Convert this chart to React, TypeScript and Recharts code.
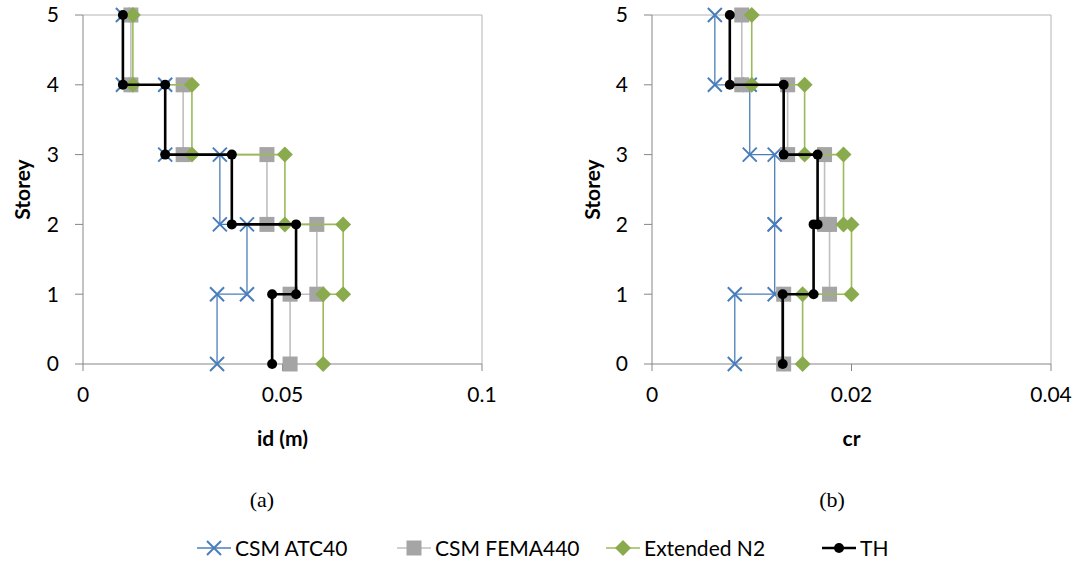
import { ScatterChart, Scatter, XAxis, YAxis, ReferenceLine } from 'recharts';

// value per storey interval (storey 1 = ground to first floor)
const storeys = [0, 1, 2, 3, 4, 5];
const idTicks = [0, 0.05, 0.1];
const crTicks = [0, 0.02, 0.04];

const idATC40 = [0.0336, 0.0411, 0.0343, 0.0206, 0.01];
const idFEMA440 = [0.0519, 0.0586, 0.0461, 0.0251, 0.012];
const idN2 = [0.0602, 0.0652, 0.0506, 0.0273, 0.0125];
const idTH = [0.0474, 0.0534, 0.0373, 0.0206, 0.01];

const crATC40 = [0.0083, 0.0123, 0.0123, 0.0098, 0.0063];
const crFEMA440 = [0.0132, 0.0178, 0.0173, 0.0136, 0.009];
const crN2 = [0.0151, 0.02, 0.0192, 0.0153, 0.01];
const crTH = [0.0131, 0.0162, 0.0166, 0.0132, 0.0078];

const steps = (vals: number[]) => vals.flatMap((v, i) => [{ x: v, y: i }, { x: v, y: i + 1 }]);

const BLUE = '#4a7ebb';
const GRAY_LINE = '#bfbfbf';
const GRAY = '#a5a5a5';
const GREEN_LINE = '#9bbb59';
const GREEN = '#8aab4d';
const AXIS = '#868686';
const BORDER = '#b4b4b4';
const FONT = 'Lato, "Noto Sans", sans-serif';

const XMark = (p: any) => (
  <path
    d={`M${p.cx - 7},${p.cy - 7}L${p.cx + 7},${p.cy + 7}M${p.cx - 7},${p.cy + 7}L${p.cx + 7},${p.cy - 7}`}
    stroke={BLUE}
    strokeWidth={2}
    fill="none"
  />
);
const SquareMark = (p: any) => <rect x={p.cx - 7.5} y={p.cy - 7.5} width={15} height={15} fill={GRAY} />;
const DiamondMark = (p: any) => (
  <path d={`M${p.cx},${p.cy - 8}L${p.cx + 8},${p.cy}L${p.cx},${p.cy + 8}L${p.cx - 8},${p.cy}Z`} fill={GREEN} />
);
const DotMark = (p: any) => <circle cx={p.cx} cy={p.cy} r={5} fill="#000" />;

function Panel(props: {
  left: number;
  width: number;
  yAxisWidth: number;
  rightMargin: number;
  ticks: number[];
  title: string;
  series: number[][];
}) {
  const { left, width, yAxisWidth, rightMargin, ticks, title, series } = props;
  const max = ticks[ticks.length - 1];
  return (
    <div style={{ position: 'absolute', left, top: 0 }}>
      <ScatterChart width={width} height={460} margin={{ top: 15, right: rightMargin, bottom: 56, left: 0 }}>
        <XAxis
          type="number"
          dataKey="x"
          domain={[0, max]}
          ticks={ticks}
          allowDataOverflow
          height={40}
          stroke={AXIS}
          tickSize={7}
          tickMargin={16}
          tick={{ fill: '#000', fontSize: 21, fontFamily: FONT }}
          label={{
            content: (lp: any) => (
              <text
                x={lp.viewBox.x + lp.viewBox.width / 2}
                y={lp.viewBox.y + 73}
                textAnchor="middle"
                dominantBaseline="central"
                fontSize={21}
                fontWeight="bold"
                fontFamily={FONT}
              >
                {title}
              </text>
            ),
          }}
        />
        <YAxis
          type="number"
          dataKey="y"
          domain={[0, 5]}
          ticks={storeys}
          width={yAxisWidth}
          stroke={AXIS}
          tickSize={8}
          tickMargin={16}
          tick={{ fill: '#000', fontSize: 21, fontFamily: FONT }}
          label={{
            content: (lp: any) => {
              const cx = lp.viewBox.x + 21;
              const cy = lp.viewBox.y + lp.viewBox.height / 2;
              return (
                <text
                  x={cx}
                  y={cy}
                  transform={`rotate(-90 ${cx} ${cy})`}
                  textAnchor="middle"
                  dominantBaseline="central"
                  fontSize={21}
                  fontWeight="bold"
                  fontFamily={FONT}
                >
                  Storey
                </text>
              );
            },
          }}
        />
        <ReferenceLine y={5} stroke={BORDER} />
        <ReferenceLine x={max} stroke={BORDER} />
        <Scatter data={steps(series[0])} line={{ stroke: BLUE, strokeWidth: 1.3 }} shape={XMark} isAnimationActive={false} />
        <Scatter data={steps(series[1])} line={{ stroke: GRAY_LINE, strokeWidth: 1.6 }} shape={SquareMark} isAnimationActive={false} />
        <Scatter data={steps(series[2])} line={{ stroke: GREEN_LINE, strokeWidth: 1.6 }} shape={DiamondMark} isAnimationActive={false} />
        <Scatter data={steps(series[3])} line={{ stroke: '#000', strokeWidth: 2.6 }} shape={DotMark} isAnimationActive={false} />
      </ScatterChart>
    </div>
  );
}

const legendItems = [
  { name: 'CSM ATC40', x: 197, color: BLUE, mark: 'x' },
  { name: 'CSM FEMA440', x: 397, color: GRAY_LINE, mark: 'square' },
  { name: 'Extended N2', x: 606, color: GREEN_LINE, mark: 'diamond' },
  { name: 'TH', x: 822, color: '#000', mark: 'dot' },
];

function LegendIcon({ mark, color }: { mark: string; color: string }) {
  return (
    <svg width={34} height={20} style={{ display: 'block' }}>
      <line x1={0} y1={10} x2={34} y2={10} stroke={color} strokeWidth={mark === 'dot' ? 2.6 : 1.6} />
      {mark === 'x' && <XMark cx={17} cy={10} />}
      {mark === 'square' && <SquareMark cx={17} cy={10} />}
      {mark === 'diamond' && <DiamondMark cx={17} cy={10} />}
      {mark === 'dot' && <DotMark cx={17} cy={10} />}
    </svg>
  );
}

const captionStyle = {
  position: 'absolute' as const,
  width: 80,
  top: 487,
  textAlign: 'center' as const,
  fontFamily: '"Liberation Serif", serif',
  fontSize: 22,
};

export default function App() {
  return (
    <div style={{ position: 'absolute', left: 0, top: 0, width: 1078, height: 565, background: '#fff', fontFamily: FONT }}>
      <Panel left={0} width={500} yAxisWidth={83} rightMargin={18} ticks={idTicks} title="id (m)" series={[idATC40, idFEMA440, idN2, idTH]} />
      <Panel left={570} width={508} yAxisWidth={82} rightMargin={27} ticks={crTicks} title="cr" series={[crATC40, crFEMA440, crN2, crTH]} />
      <div style={{ ...captionStyle, left: 222 }}>(a)</div>
      <div style={{ ...captionStyle, left: 792 }}>(b)</div>
      {legendItems.map((it) => (
        <div key={it.name} style={{ position: 'absolute', left: it.x, top: 535, display: 'flex', alignItems: 'center', gap: 4, fontSize: 21, whiteSpace: 'nowrap' }}>
          <LegendIcon mark={it.mark} color={it.color} />
          <span>{it.name}</span>
        </div>
      ))}
    </div>
  );
}
